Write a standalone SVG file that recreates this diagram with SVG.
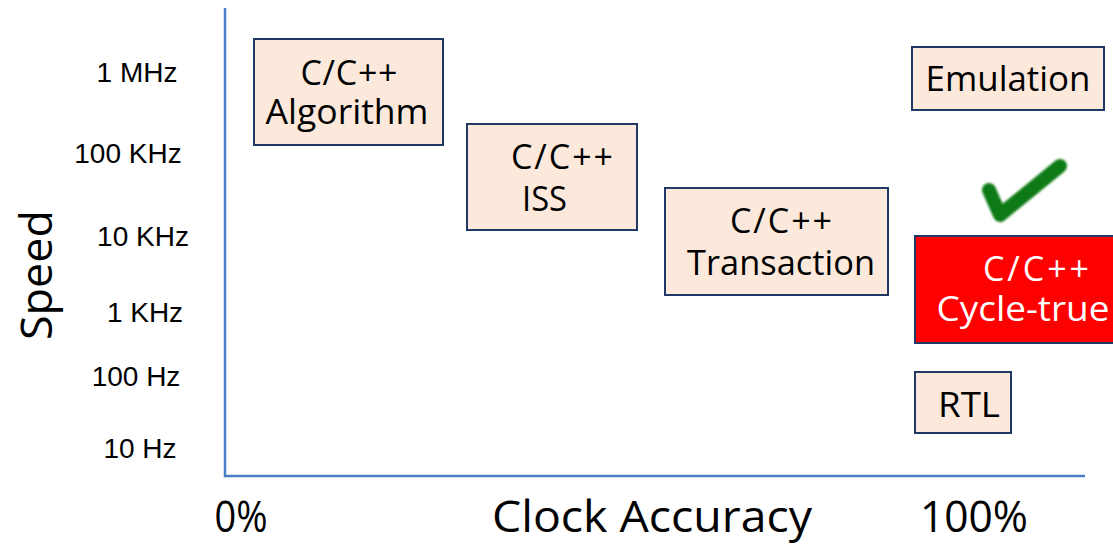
<svg xmlns="http://www.w3.org/2000/svg" width="1113" height="545" viewBox="0 0 1113 545">
  <style>
    .box { fill: #FCE9DB; stroke: #1F3864; stroke-width: 2; }
    .hot { fill: #FF0000; stroke: #1F3864; stroke-width: 2; }
    .lbl { font-family: "Open Sans", "DejaVu Sans", sans-serif; font-size: 34px; fill: #000; }
    .wht { fill: #FFFFFF; }
    .tick { font-family: "Liberation Sans", Arial, sans-serif; font-size: 28px; fill: #000; text-anchor: middle; }
    .axlbl { font-family: "Open Sans", "DejaVu Sans", sans-serif; font-size: 44px; fill: #000; }
    .axis { stroke: #4A7EC9; stroke-width: 2.5; fill: none; }
  </style>
  <defs>
    <filter id="soft" x="-20%" y="-20%" width="140%" height="140%">
      <feGaussianBlur stdDeviation="1.2"/>
    </filter>
  </defs>
  <rect width="1113" height="545" fill="#FFFFFF"/>

  <!-- axes -->
  <g id="axes">
    <polyline class="axis" points="225,8 225,476 1085,476"/>
  </g>

  <!-- speed scale -->
  <g id="speed-ticks">
    <text class="tick" x="137" y="82">1 MHz</text>
    <text class="tick" x="128" y="163">100 KHz</text>
    <text class="tick" x="143" y="246">10 KHz</text>
    <text class="tick" x="145" y="322">1 KHz</text>
    <text class="tick" x="136" y="386">100 Hz</text>
    <text class="tick" x="140" y="458">10 Hz</text>
  </g>

  <text class="axlbl" transform="translate(52,275) rotate(-90)" text-anchor="middle" textLength="130" lengthAdjust="spacingAndGlyphs">Speed</text>
  <text class="axlbl" x="241" y="532" text-anchor="middle" textLength="53" lengthAdjust="spacingAndGlyphs">0%</text>
  <text class="axlbl" x="652" y="532" text-anchor="middle" textLength="320" lengthAdjust="spacingAndGlyphs">Clock Accuracy</text>
  <text class="axlbl" x="974" y="532" text-anchor="middle" textLength="108" lengthAdjust="spacingAndGlyphs">100%</text>

  <g id="algorithm">
    <rect class="box" x="254" y="39" width="189" height="106"/>
    <text class="lbl" x="349" y="85" text-anchor="middle" textLength="97" lengthAdjust="spacing">C/C++</text>
    <text class="lbl" x="347" y="124" text-anchor="middle" textLength="163" lengthAdjust="spacingAndGlyphs">Algorithm</text>
  </g>

  <g id="iss">
    <rect class="box" x="467" y="124" width="170" height="106"/>
    <text class="lbl" x="511" y="169" textLength="102" lengthAdjust="spacing">C/C++</text>
    <text class="lbl" x="522" y="211" textLength="45" lengthAdjust="spacingAndGlyphs">ISS</text>
  </g>

  <g id="transaction">
    <rect class="box" x="665" y="188" width="223" height="107"/>
    <text class="lbl" x="781" y="233" text-anchor="middle" textLength="102" lengthAdjust="spacing">C/C++</text>
    <text class="lbl" x="781" y="275" text-anchor="middle" textLength="188" lengthAdjust="spacingAndGlyphs">Transaction</text>
  </g>

  <g id="emulation">
    <rect class="box" x="912" y="47" width="192" height="63"/>
    <text class="lbl" x="1008" y="91" text-anchor="middle" textLength="165" lengthAdjust="spacingAndGlyphs">Emulation</text>
  </g>

  <g id="check">
    <path d="M989,190 L1000,215 L1060,166" fill="none" stroke="#0B7A12" stroke-width="14" stroke-linecap="round" stroke-linejoin="round" filter="url(#soft)"/>
  </g>

  <g id="cycle-true">
    <rect class="hot" x="915" y="236" width="210" height="107"/>
    <text class="lbl wht" x="1036" y="281" text-anchor="middle" textLength="106" lengthAdjust="spacing">C/C++</text>
    <text class="lbl wht" x="1023" y="321" text-anchor="middle" textLength="173" lengthAdjust="spacingAndGlyphs">Cycle-true</text>
  </g>

  <g id="rtl">
    <rect class="box" x="915" y="372" width="96" height="61"/>
    <text class="lbl" x="969" y="417" text-anchor="middle" textLength="62" lengthAdjust="spacingAndGlyphs">RTL</text>
  </g>

  <g id="connectors"/>
</svg>
